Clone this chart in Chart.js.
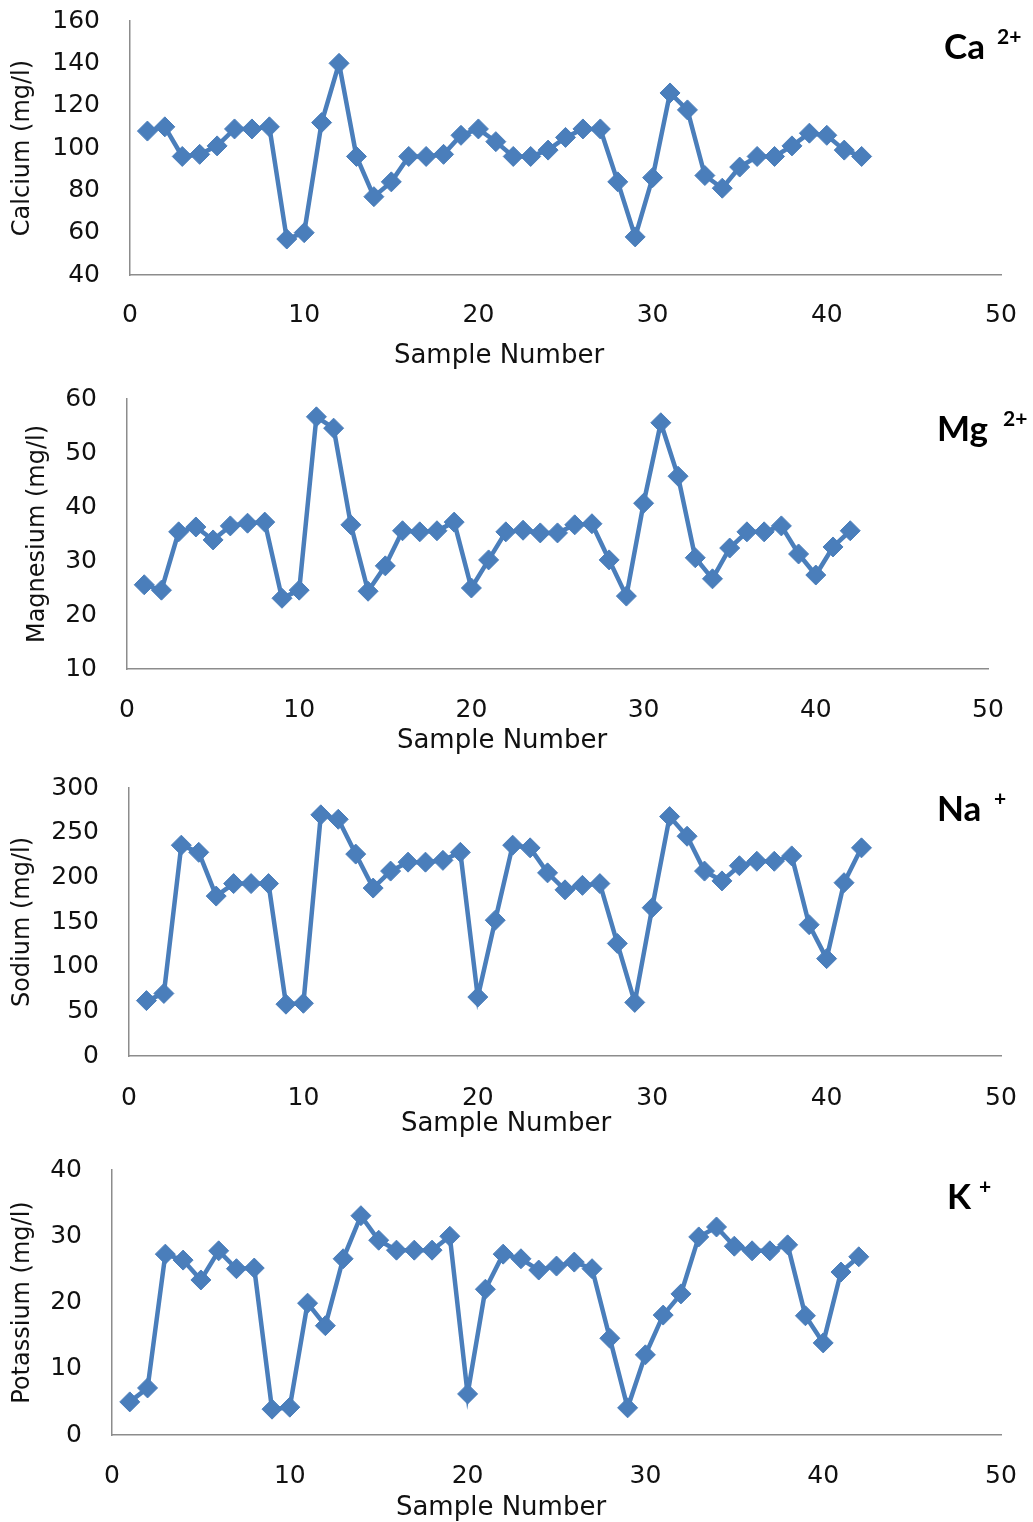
<!DOCTYPE html>
<html>
<head>
<meta charset="utf-8">
<script src="https://cdn.jsdelivr.net/npm/chart.js@4.4.0/dist/chart.umd.min.js"></script>
<style>
  body { margin: 0; background: #fff; }
  #wrap { position: relative; width: 1033px; height: 1522px; overflow: hidden; }
  canvas { position: absolute; left: 0; }
  .ion { position: absolute; font-family: Lato, sans-serif; font-weight: bold; color: #000; line-height: 1; white-space: nowrap; }
  .big { font-size: 35px; }
  .sup { font-size: 21px; }
  .xt { position: absolute; width: 300px; text-align: center; font-family: 'DejaVu Sans', sans-serif; font-size: 26px; line-height: 30px; color: #111; white-space: nowrap; }
</style>
</head>
<body>
<div id="wrap">
  <canvas id="ca"></canvas>
  <canvas id="mg"></canvas>
  <canvas id="na"></canvas>
  <canvas id="k"></canvas>

  <div class="ion big" style="left:944px; top:28px">Ca</div>
  <div class="ion sup" style="left:997px; top:25px">2+</div>
  <div class="ion big" style="left:937px; top:410px">Mg</div>
  <div class="ion sup" style="left:1003px; top:407px">2+</div>
  <div class="ion big" style="left:937px; top:790px">Na</div>
  <div class="ion sup" style="left:994px; top:787px">+</div>
  <div class="ion big" style="left:947px; top:1178px">K</div>
  <div class="ion sup" style="left:979px; top:1175px">+</div>

  <div class="xt" style="left:349px; top:339px">Sample Number</div>
  <div class="xt" style="left:352px; top:724px">Sample Number</div>
  <div class="xt" style="left:356px; top:1107px">Sample Number</div>
  <div class="xt" style="left:351px; top:1491px">Sample Number</div>
</div>
<script>
// sample numbers along the x axis
const sampleNo = [1, 2, 3, 4, 5, 6, 7, 8, 9, 10, 11, 12, 13, 14, 15, 16, 17, 18, 19, 20, 21,
  22, 23, 24, 25, 26, 27, 28, 29, 30, 31, 32, 33, 34, 35, 36, 37, 38, 39, 40, 41, 42];

const calcium = [108, 110, 96, 97, 101, 109, 109, 110, 57, 60, 112, 140, 96, 77, 84, 96, 96, 97, 106, 109, 103,
  96, 96, 99, 105, 109, 109, 84, 58, 86, 126, 118, 87, 81, 91, 96, 96, 101, 107, 106, 99, 96];
const magnesium = [25.6, 24.6, 35.4, 36.3, 33.9, 36.5, 37, 37.2, 23.1, 24.6, 56.7, 54.6, 36.7, 24.4, 29.1, 35.6, 35.4, 35.6, 37.2, 25, 30.2,
  35.4, 35.7, 35.2, 35.2, 36.7, 36.9, 30.2, 23.5, 40.7, 55.6, 45.7, 30.6, 26.7, 32.4, 35.4, 35.4, 36.5, 31.3, 27.4, 32.6, 35.6];
const sodium = [62, 70, 236, 228, 179, 193, 193, 193, 58, 59, 270, 265, 226, 188, 207, 217, 217, 219, 228, 66, 152,
  236, 233, 205, 186, 191, 193, 126, 60, 166, 268, 246, 207, 196, 213, 218, 218, 224, 147, 109, 194, 233];
const potassium = [5, 7.1, 27.3, 26.4, 23.4, 27.8, 25.1, 25.2, 3.9, 4.2, 19.9, 16.5, 26.6, 33.1, 29.4, 27.9, 27.9, 27.9, 30, 6.2, 22,
  27.3, 26.6, 24.9, 25.5, 26.1, 25.1, 14.6, 4.1, 12.1, 18.1, 21.3, 29.9, 31.4, 28.5, 27.8, 27.8, 28.7, 18, 13.9, 24.6, 26.9];

// axis ranges: [min, max, step]
const xRange = [0, 50, 10];
const caRange = [40, 160, 20];
const mgRange = [10, 60, 10];
const naRange = [0, 300, 50];
const kRange = [0, 40, 10];

const blue = '#4a7ebb';
const tickFont = { family: 'DejaVu Sans', size: 25 };
const titleFont = { family: 'DejaVu Sans', size: 24 };
const PAD = 50;   // fixed top / right padding, canvas is shifted to compensate
const XH = 62;    // height of the x axis box

function drawPanel(id, values, yTitle, yRange, g) {
  const cv = document.getElementById(id);
  const top = g.top - PAD;
  cv.width = g.right + PAD;
  cv.height = g.bottom + XH - top;
  cv.style.top = top + 'px';
  new Chart(cv, {
    type: 'line',
    data: {
      datasets: [{
        data: sampleNo.map((n, i) => ({ x: n, y: values[i] })),
        borderColor: blue,
        backgroundColor: blue,
        borderWidth: 4.5,
        pointStyle: 'rectRot',
        pointRadius: 10,
        pointBorderWidth: 1,
        tension: 0,
        fill: false
      }]
    },
    options: {
      responsive: false,
      animation: false,
      devicePixelRatio: 1,
      layout: { padding: { left: 0, right: PAD, top: PAD, bottom: 0 } },
      plugins: { legend: { display: false }, tooltip: { enabled: false } },
      scales: {
        x: {
          type: 'linear',
          min: xRange[0], max: xRange[1],
          ticks: { stepSize: xRange[2], color: '#111', font: tickFont, padding: g.xPad, maxRotation: 0 },
          grid: { display: false, drawTicks: false },
          border: { display: true, color: '#8c8c8c', width: 1.5 },
          afterFit: s => { s.height = XH; }
        },
        y: {
          min: yRange[0], max: yRange[1],
          ticks: { stepSize: yRange[2], color: '#111', font: tickFont, padding: 30 },
          grid: { display: false, drawTicks: false },
          border: { display: true, color: '#8c8c8c', width: 1.5 },
          title: { display: true, text: yTitle, color: '#111', font: titleFont, padding: { top: g.tPad, bottom: 0 } },
          afterFit: s => { s.width = g.left; }
        }
      }
    }
  });
}

drawPanel('ca', calcium, 'Calcium (mg/l)', caRange, { left: 130, right: 1001, top: 21, bottom: 275, xPad: 25, tPad: 8 });
drawPanel('mg', magnesium, 'Magnesium (mg/l)', mgRange, { left: 127, right: 988, top: 399, bottom: 669, xPad: 26, tPad: 23 });
drawPanel('na', sodium, 'Sodium (mg/l)', naRange, { left: 129, right: 1001, top: 788, bottom: 1056, xPad: 27, tPad: 8 });
drawPanel('k', potassium, 'Potassium (mg/l)', kRange, { left: 112, right: 1001, top: 1170, bottom: 1435, xPad: 26, tPad: 8 });
</script>
</body>
</html>
